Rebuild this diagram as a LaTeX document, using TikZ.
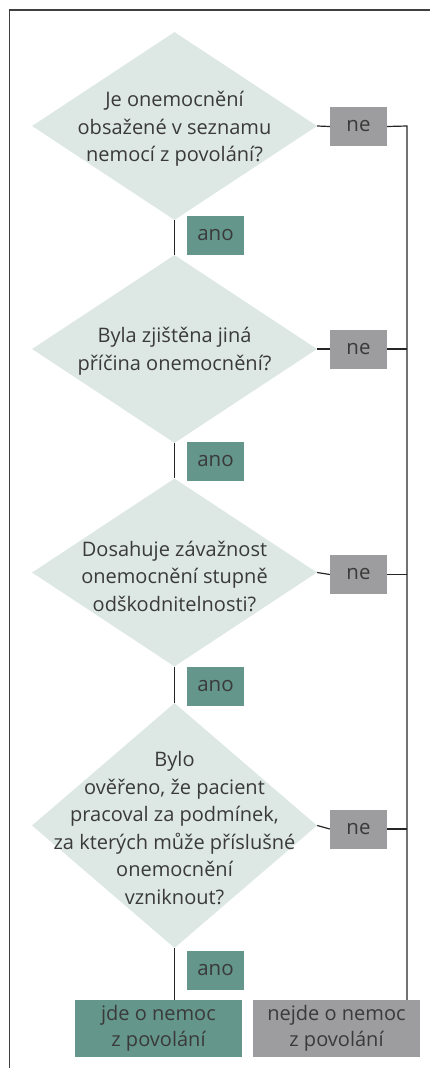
\documentclass[tikz,border=0pt]{standalone}
\usepackage{fontspec}
\setmainfont{Open Sans}
\usetikzlibrary{shapes.geometric}

\definecolor{qfill}{HTML}{DDE8E5}
\definecolor{anocol}{HTML}{64968B}
\definecolor{necol}{HTML}{9D9D9F}
\definecolor{txtcol}{HTML}{3A3A3A}

\tikzset{
  question/.style={diamond, fill=qfill, minimum width=285pt, minimum height=188pt, inner sep=0pt},
  qtext/.style={align=center, text=txtcol, font=\fontsize{20}{27.5}\selectfont},
  anobox/.style={fill=anocol, minimum width=57pt, minimum height=39pt, inner sep=0pt, text=txtcol, font=\fontsize{20.5}{24}\selectfont},
  nebox/.style={anobox, fill=necol},
  endbox/.style={minimum width=167pt, minimum height=57pt, inner sep=0pt, align=center, text=txtcol, font=\fontsize{20}{26}\selectfont},
  wire/.style={line width=1.2pt, draw=black!85}
}

\begin{document}
\begin{tikzpicture}[x=1pt,y=-1pt]
            \useasboundingbox (0,0) rectangle (430,1068);
            \draw[wire, draw=black!75] (430,10) -- (9.5,10) -- (9.5,1068);

            % questions
            \node[question] (q1) at (174.5,126) {};
            \node[qtext] (t1) at (174.5,129) {Je onemocnění\\obsažené v seznamu\\nemocí z povolání?};
            \node[question] (q2) at (174.5,349) {};
            \node[qtext] (t2) at (174.5,351) {Byla zjištěna jiná\\příčina onemocnění?};
            \node[question] (q3) at (174.5,572.5) {};
            \node[qtext] (t3) at (174.5,576) {Dosahuje závažnost\\onemocnění stupně\\odškodnitelnosti?};
            \node[question, minimum height=245pt] (q4) at (174.5,825.5) {};
            \node[qtext] (t4) at (174.5,828) {Bylo\\ověřeno, že pacient\\pracoval za podmínek,\\za kterých může příslušné\\onemocnění\\vzniknout?};

            % results
            \node[endbox, fill=anocol] (yes) at (158.5,1028.5) {jde o nemoc\\z povolání};
            \node[endbox, fill=necol] (no) at (336.5,1028.5) {nejde o nemoc\\z povolání};
            \coordinate (rail) at (407,126);

            % yes branch
            \draw[wire] (q1.south) -- (q2.north);
            \draw[wire] (q2.south) -- (q3.north);
            \draw[wire] (q3.south) -- (q4.north);
            \draw[wire] (q4.south) -- (q4.south |- yes.north);
            \node[anobox] (a1) at (215.5,235.5) {ano};
            \node[anobox] (a2) at (215.5,461.5) {ano};
            \node[anobox] (a3) at (215.5,686.5) {ano};
            \node[anobox] (a4) at (215.5,970.5) {ano};

            % no branch
            \node[nebox] (n1) at (358.5,126.5) {ne};
            \node[nebox] (n2) at (358.5,349) {ne};
            \node[nebox] (n3) at (358.5,574.5) {ne};
            \node[nebox] (n4) at (358.5,829) {ne};
            \draw[wire] (q1.east) -- (n1.west);
            \draw[wire] (q2.east) -- (n2.west);
            \draw[wire] (q3.east) -- (n3.west);
            \draw[wire] (q4.east) -- (n4.west);
            \draw[wire] (n1.east) -- (rail) -- (rail |- no.north);
            \draw[wire] (n2.east) -- (n2.east -| rail);
            \draw[wire] (n3.east) -- (n3.east -| rail);
            \draw[wire] (n4.east) -- (n4.east -| rail);
      \end{tikzpicture}
\end{document}
